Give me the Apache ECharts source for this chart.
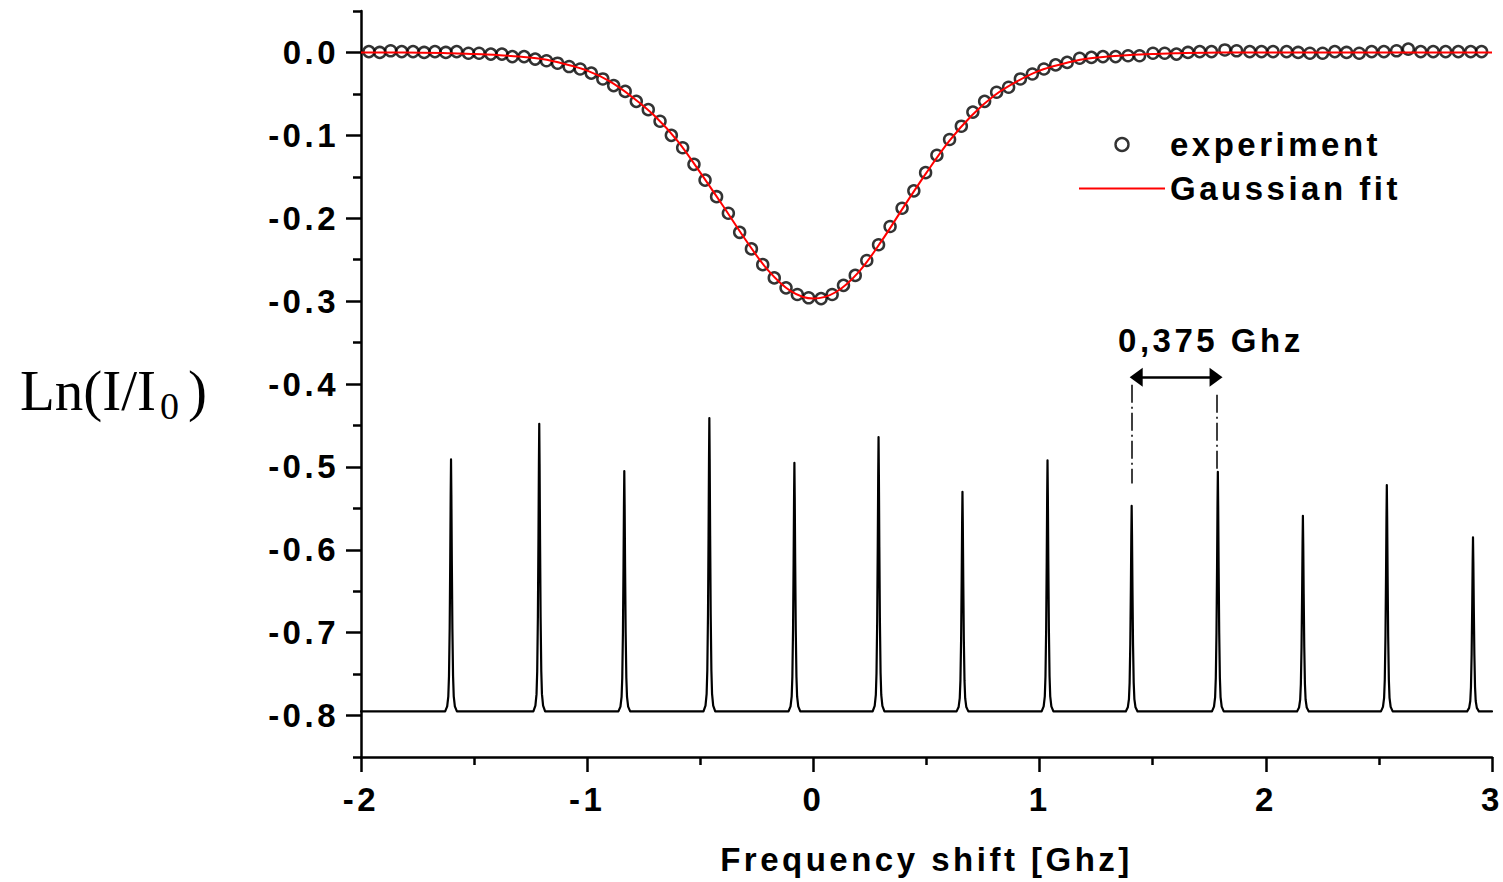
<!DOCTYPE html>
<html><head><meta charset="utf-8">
<script src="https://cdn.jsdelivr.net/npm/echarts@6/dist/echarts.min.js"></script>
<style>
html,body{margin:0;padding:0;background:#fff;}
#chart{width:1503px;height:882px;}
#chart text{letter-spacing:3.5px;}
#chart text[style*="Serif"]{letter-spacing:0;}
</style></head><body><div id="chart"></div>
<script>
// ---- data ----
const expX = [-1.965,-1.917,-1.869,-1.820,-1.770,-1.721,-1.673,-1.625,-1.577,-1.525,-1.478,-1.426,-1.377,-1.331,-1.279,-1.230,-1.180,-1.131,-1.080,-1.031,-0.982,-0.931,-0.883,-0.832,-0.783,-0.730,-0.678,-0.628,-0.578,-0.528,-0.479,-0.428,-0.376,-0.326,-0.274,-0.224,-0.173,-0.121,-0.071,-0.021,0.034,0.083,0.133,0.185,0.236,0.288,0.339,0.392,0.444,0.496,0.546,0.602,0.654,0.705,0.757,0.810,0.863,0.915,0.968,1.019,1.071,1.122,1.177,1.229,1.280,1.336,1.391,1.442,1.501,1.553,1.605,1.656,1.708,1.760,1.819,1.871,1.929,1.981,2.032,2.092,2.143,2.195,2.251,2.305,2.357,2.413,2.468,2.522,2.578,2.630,2.685,2.740,2.795,2.851,2.906,2.954];
const expY = [0.001,0.000,0.002,0.001,0.001,0.000,0.001,0.000,0.001,-0.001,-0.001,-0.002,-0.002,-0.005,-0.005,-0.008,-0.010,-0.013,-0.017,-0.020,-0.025,-0.032,-0.040,-0.047,-0.059,-0.069,-0.083,-0.100,-0.115,-0.135,-0.154,-0.174,-0.194,-0.217,-0.237,-0.256,-0.272,-0.284,-0.292,-0.296,-0.297,-0.292,-0.281,-0.269,-0.251,-0.232,-0.210,-0.188,-0.167,-0.145,-0.124,-0.105,-0.089,-0.072,-0.059,-0.048,-0.042,-0.032,-0.026,-0.020,-0.015,-0.012,-0.007,-0.006,-0.005,-0.005,-0.004,-0.004,-0.001,-0.001,-0.002,0.000,0.001,0.001,0.003,0.002,0.001,0.001,0.001,0.001,0.000,-0.001,-0.001,0.001,0.000,-0.001,0.001,0.001,0.002,0.004,0.001,0.001,0.001,0.001,0.001,0.001];

const fitX = [-2,-1.8,-1.6,-1.5,-1.4,-1.3,-1.2,-1.1,-1.0,-0.9,-0.8,-0.7,-0.6,-0.5,-0.4,-0.3,-0.2,-0.1,0,0.1,0.2,0.3,0.4,0.5,0.6,0.7,0.8,0.9,1.0,1.1,1.2,1.3,1.4,1.5,1.6,1.8,2.0,2.5,3.0];
const fitY = [0,0,-0.001,-0.002,-0.003,-0.005,-0.008,-0.014,-0.022,-0.035,-0.054,-0.077,-0.107,-0.145,-0.185,-0.226,-0.263,-0.288,-0.297,-0.289,-0.265,-0.228,-0.186,-0.145,-0.107,-0.076,-0.052,-0.035,-0.022,-0.014,-0.008,-0.005,-0.003,-0.002,-0.001,0,0,0,0];

const peakX = [-1.602,-1.212,-0.836,-0.460,-0.084,0.288,0.659,1.035,1.407,1.788,2.164,2.535,2.916];
const peakTop = [-0.491,-0.448,-0.505,-0.441,-0.495,-0.464,-0.530,-0.492,-0.547,-0.506,-0.559,-0.522,-0.585];
const baseline = -0.795;
// shape of one transmission peak (offset in GHz, fraction of peak height)
const peakProfileOffset = [-0.026,-0.017,-0.012,-0.009,-0.006,-0.0035,-0.0015,0,0.0015,0.0035,0.006,0.009,0.012,0.017,0.026];
const peakProfileFrac   = [0,0.02,0.06,0.14,0.33,0.6,0.86,1,0.86,0.6,0.33,0.14,0.06,0.02,0];

const xMin = -2, xMax = 3;
const yMin = -0.85, yMax = 0.05;
const yMajorTicks = [-0.8,-0.7,-0.6,-0.5,-0.4,-0.3,-0.2,-0.1,0];
const yMinorTicks = [-0.85,-0.75,-0.65,-0.55,-0.45,-0.35,-0.25,-0.15,-0.05,0.05];

// annotation "0,375 Ghz" (data coordinates)
const arrowX = [1.427, 1.780], arrowY = -0.392;
const guideLeft = [1.407, -0.401, -0.520];
const guideRight = [1.783, -0.413, -0.506];
const annotText = '0,375 Ghz', annotPos = [1.757, -0.348];

// y-axis title pieces
const yTitleMain = 'Ln(I/I', yTitleSub = '0', yTitleEnd = ')';

// ---- build ----
const FONT = 'Liberation Sans';
const txt = {color:'#000', fontSize:33, fontWeight:'bold', fontFamily:FONT};
const expData = expX.map((x,i)=>[x, expY[i]]);
const fitData = fitX.map((x,i)=>[x, fitY[i]]);
const specData = [[xMin, baseline]];
peakX.forEach((c,i)=>{
  peakProfileOffset.forEach((o,k)=>{
    specData.push([c+o, baseline + peakProfileFrac[k]*(peakTop[i]-baseline)]);
  });
});
specData.push([xMax, baseline]);

// measure y-title pieces for placement
const mctx = document.createElement('canvas').getContext('2d');
mctx.font = '57px "Liberation Serif"';
const wMain = mctx.measureText(yTitleMain).width;
mctx.font = '38px "Liberation Serif"';
const wSub = mctx.measureText(yTitleSub).width;
const tX0 = 20, tY = 390;
const serifStyle = (size)=>({fontSize:size, fontFamily:'Liberation Serif', fill:'#000', align:'left', verticalAlign:'middle', textAlign:'left', textVerticalAlign:'middle'});

const chart = echarts.init(document.getElementById('chart'), null, {renderer:'svg'});
const axisCol = '#000';
chart.setOption({
  animation:false,
  backgroundColor:'#fff',
  grid:{left:361, right:11, top:11, bottom:125, containLabel:false, outerBoundsMode:'none'},
  legend:{
    left:1078, top:128, padding:0, orient:'vertical', itemWidth:86, itemHeight:13, itemGap:11,
    selectedMode:false, textStyle:txt,
    data:[
      {name:'experiment', icon:'circle', itemStyle:{color:'rgba(0,0,0,0)', borderColor:'#000', borderWidth:2.4}},
      {name:'Gaussian fit', itemStyle:{color:'rgba(0,0,0,0)', borderColor:'rgba(0,0,0,0)', borderWidth:0}, lineStyle:{color:'#ff0000', width:2}}
    ]
  },
  xAxis:{
    type:'value', min:xMin, max:xMax, interval:1,
    name:'Frequency shift [Ghz]', nameLocation:'middle', nameGap:86, nameTextStyle:txt,
    axisLine:{onZero:false, lineStyle:{color:axisCol, width:2.5}},
    axisTick:{length:15, lineStyle:{color:axisCol, width:2.5}},
    minorTick:{show:true, splitNumber:2, length:8, lineStyle:{color:axisCol, width:2.5}},
    axisLabel:Object.assign({margin:26, formatter:v=>String(v)}, txt),
    splitLine:{show:false}, minorSplitLine:{show:false}
  },
  yAxis:[{
    type:'value', min:yMin, max:yMax,
    axisLine:{onZero:false, lineStyle:{color:axisCol, width:2.5}},
    axisTick:{length:15, customValues:yMajorTicks, lineStyle:{color:axisCol, width:2.5}},
    axisLabel:Object.assign({margin:22, customValues:yMajorTicks, formatter:v=>v.toFixed(1)}, txt),
    splitLine:{show:false}
  },{
    type:'value', min:yMin, max:yMax, position:'left',
    axisLine:{show:false, onZero:false},
    axisTick:{length:8, customValues:yMinorTicks, lineStyle:{color:axisCol, width:2.5}},
    axisLabel:{show:false},
    splitLine:{show:false}
  }],
  graphic:[
    {type:'text', x:tX0, y:tY, silent:true, style:Object.assign({text:yTitleMain}, serifStyle(57))},
    {type:'text', x:tX0 + wMain + 4, y:tY + 16, silent:true, style:Object.assign({text:yTitleSub}, serifStyle(38))},
    {type:'text', x:tX0 + wMain + 4 + wSub + 9, y:tY, silent:true, style:Object.assign({text:yTitleEnd}, serifStyle(57))}
  ],
  series:[
    {
      name:'experiment', type:'scatter', data:expData, symbol:'circle', symbolSize:11,
      itemStyle:{color:'rgba(0,0,0,0)', borderColor:'#000', borderWidth:2.5}, z:2, silent:true
    },
    {
      name:'Gaussian fit', type:'line', data:fitData, showSymbol:false, symbol:'none',
      smooth:0.35, lineStyle:{color:'#ff0000', width:2}, itemStyle:{color:'#ff0000'}, z:3, silent:true
    },
    {
      name:'spectrum', type:'line', data:specData, showSymbol:false, symbol:'none', silent:true,
      lineStyle:{color:'#000', width:2.2, join:'round', cap:'round'}, itemStyle:{color:'#000'}, z:2,
      markLine:{
        silent:true, animation:false, label:{show:false},
        data:[
          [{coord:[arrowX[0], arrowY], symbol:'triangle', symbolSize:[19,13], lineStyle:{color:'#000', width:2.5, type:'solid'}},
           {coord:[arrowX[1], arrowY], symbol:'triangle', symbolSize:[19,13]}],
          [{coord:[guideLeft[0], guideLeft[1]], symbol:'none', lineStyle:{color:'#000', width:1.5, type:[18,4,2,4]}},
           {coord:[guideLeft[0], guideLeft[2]], symbol:'none'}],
          [{coord:[guideRight[0], guideRight[1]], symbol:'none', lineStyle:{color:'#000', width:1.5, type:[18,4,2,4]}},
           {coord:[guideRight[0], guideRight[2]], symbol:'none'}]
        ]
      },
      markPoint:{
        silent:true, animation:false,
        data:[{coord:annotPos, symbol:'circle', symbolSize:1, itemStyle:{color:'rgba(0,0,0,0)'},
          label:Object.assign({show:true, position:'inside', formatter:annotText}, txt)}]
      }
    }
  ]
});
</script></body></html>
